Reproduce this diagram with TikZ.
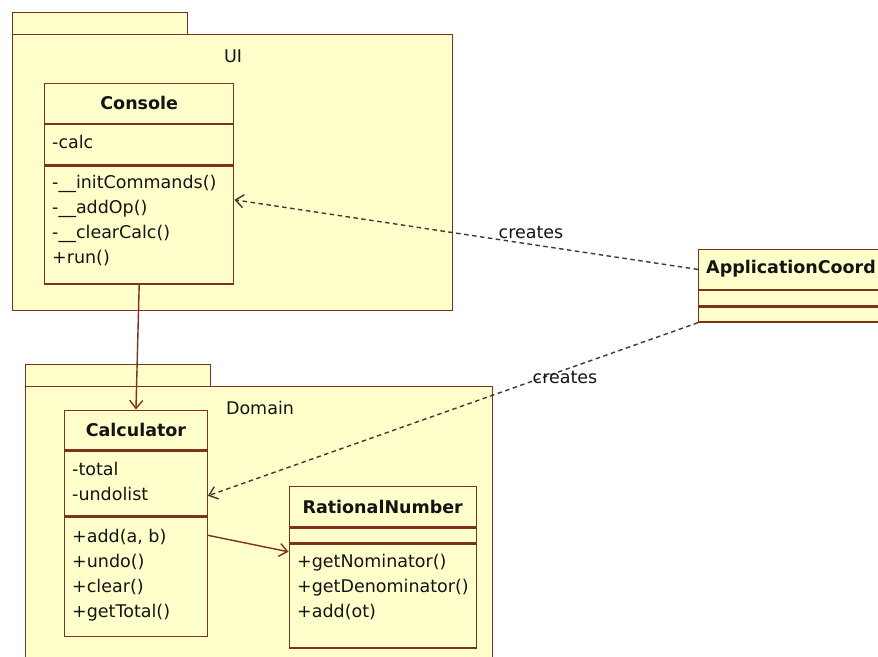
\documentclass[tikz,border=0pt]{standalone}
\usepackage{fontspec}
\setmainfont{DejaVu Sans}
\usepackage{xcolor}
\usetikzlibrary{arrows.meta}
\usetikzlibrary{calc}
\definecolor{umlfill}{RGB}{255,255,204}
\definecolor{umlline}{RGB}{125,50,30}
\definecolor{umltext}{RGB}{20,20,20}
\definecolor{umldash}{RGB}{70,55,45}

\begin{document}
\begin{tikzpicture}[x=1pt,y=-1pt,
    pkg/.style={draw=umlline,fill=umlfill,line width=1.4pt,anchor=north west,inner sep=0pt},
    part/.style={draw=umlline,fill=umlfill,line width=1.4pt,anchor=north west,inner sep=0pt},
    title/.style={font=\fontsize{17.5}{25}\selectfont\bfseries,text=umltext},
    members/.style={anchor=north west,inner sep=0pt,align=left,text=umltext},
    uses/.style={draw=umlline,line width=1.4pt,-{Straight Barb[length=8pt,width=13pt]}},
    creates/.style={draw=umldash,line width=1.4pt,dash pattern=on 4.5pt off 3.5pt,-{Straight Barb[length=8pt,width=13pt]}},
    font=\fontsize{17.5}{25}\selectfont]
      \useasboundingbox[fill=white] (0,0) rectangle (878,656);

      \node (uiTab) at (12,12) [pkg,minimum width=175,minimum height=22]{};
      \node (ui) at (12,34) [pkg,minimum width=440,minimum height=276]{};
      \node (uiName) at (233,62) [anchor=base,text=umltext]{UI};

      \node (domTab) at (25,364) [pkg,minimum width=185,minimum height=22]{};
      \node (dom) at (25,386) [pkg,minimum width=467,minimum height=300]{};
      \node (domName) at (260,414) [anchor=base,text=umltext]{Domain};

      \node (con) at (44,83) [part,title,minimum width=189,minimum height=39.5]{Console};
      \node (conA) at (con.south west) [part,minimum width=189,minimum height=40]{};
      \node (conM) at (conA.south west) [part,minimum width=189,minimum height=118]{};
      \node (conAtxt) at (52,134.7) [members]{-calc};
      \node (conMtxt) at (52,174.7) [members]{-\_\_initCommands()\\-\_\_addOp()\\-\_\_clearCalc()\\+run()};

      \node (calc) at (64,409.5) [part,title,minimum width=142.5,minimum height=39.5]{Calculator};
      \node (calcA) at (calc.south west) [part,minimum width=142.5,minimum height=65]{};
      \node (calcM) at (calcA.south west) [part,minimum width=142.5,minimum height=119]{};
      \node (calcAtxt) at (72,461.7) [members]{-total\\-undolist};
      \node (calcMtxt) at (72,528.7) [members]{+add(a, b)\\+undo()\\+clear()\\+getTotal()};

      \node (rat) at (288.5,486) [part,title,minimum width=187,minimum height=40]{RationalNumber};
      \node (ratA) at (rat.south west) [part,minimum width=187,minimum height=15]{};
      \node (ratM) at (ratA.south west) [part,minimum width=187,minimum height=103.5]{};
      \node (ratMtxt) at (297,553.7) [members]{+getNominator()\\+getDenominator()\\+add(ot)};

      \node (app) at (698,249) [part,minimum width=200,minimum height=39.5]{};
      \node (appA) at (app.south west) [part,minimum width=200,minimum height=15]{};
      \node (appM) at (appA.south west) [part,minimum width=200,minimum height=15]{};
      \node (appName) at (706,269) [anchor=west,inner sep=0pt,title]{ApplicationCoord};

      \draw[uses] (conM.south) -- (calc.north);
      \draw[uses] ($(calcM.north east)+(0,18.5)$) -- ($(ratM.north west)+(0,8)$);
      \draw[creates] (app.west) -- ($(conM.north east)+(0,34.5)$);
      \draw[creates] (appM.south west) -- ($(calcA.south east)+(0,-21)$);

      \node (lblCon) at (531,238) [anchor=base,text=umltext]{creates};
      \node (lblCalc) at (565,383) [anchor=base,text=umltext]{creates};
    \end{tikzpicture}
\end{document}
